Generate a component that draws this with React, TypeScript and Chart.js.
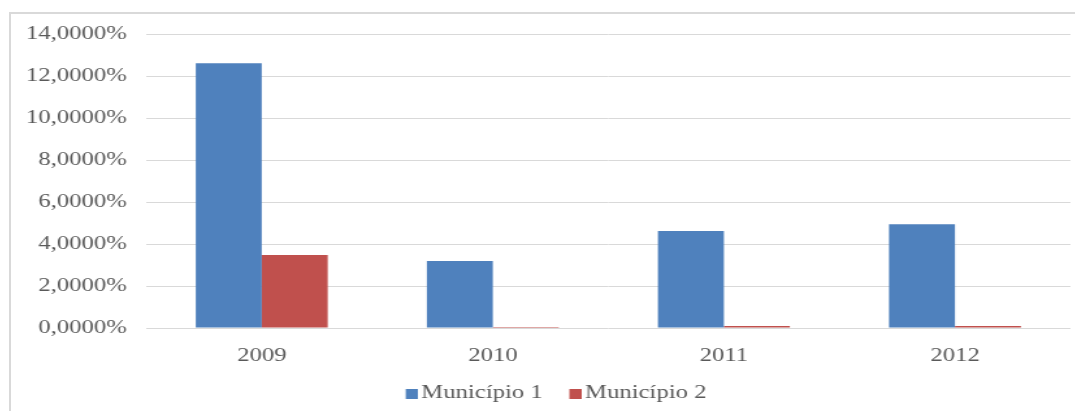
import React, { useEffect, useRef } from "react";
import { Chart, registerables } from "chart.js";

Chart.register(...registerables);

const categories = ["2009", "2010", "2011", "2012"];
const municipio1 = [12.62, 3.19, 4.62, 4.95];
const municipio2 = [3.48, 0.05, 0.1, 0.1];
const seriesNames = ["Município 1", "Município 2"];
const seriesColors = ["#4f81bd", "#c0504d"];

const STRETCH = 1.3;
const CW = 840;
const CH = 405;

function makeLegendBox(color: string) {
  const c = document.createElement("canvas");
  c.width = 14;
  c.height = 10;
  const ctx = c.getContext("2d");
  if (ctx) {
    ctx.fillStyle = color;
    ctx.fillRect(5, 0, 9, 10);
  }
  return c;
}

export default function App() {
  const ref = useRef<HTMLCanvasElement | null>(null);
  useEffect(() => {
    if (!ref.current) return;
    const font = { family: "'Liberation Serif', 'Times New Roman', serif", size: 19 };
    const boxes = seriesColors.map(makeLegendBox);
    const chart = new Chart(ref.current, {
      type: "bar",
      data: {
        labels: categories,
        datasets: [
          { label: seriesNames[0], data: municipio1, backgroundColor: seriesColors[0], borderWidth: 0 },
          { label: seriesNames[1], data: municipio2, backgroundColor: seriesColors[1], borderWidth: 0 },
        ],
      },
      options: {
        animation: false,
        responsive: false,
        maintainAspectRatio: false,
        layout: { padding: { top: 2, right: 10, left: 10, bottom: 0 } },
        datasets: { bar: { barPercentage: 1, categoryPercentage: 0.571 } },
        plugins: {
          tooltip: { enabled: false },
          legend: {
            position: "bottom",
            labels: {
              font,
              color: "#595959",
              usePointStyle: true,
              pointStyleWidth: 1,
              boxHeight: 10,
              padding: 22,
              generateLabels: (c: any) =>
                (Chart.defaults.plugins.legend.labels.generateLabels as any)(c).map((l: any, i: number) => ({
                  ...l,
                  pointStyle: boxes[i],
                })),
            },
          },
        },
        scales: {
          x: {
            grid: { display: false },
            border: { display: false },
            ticks: { font, color: "#595959", padding: 9 },
            afterFit: (s: any) => {
              s.height = 34;
            },
          },
          y: {
            min: 0,
            max: 14,
            grid: { color: "#d9d9d9", lineWidth: 1, drawTicks: false },
            border: { display: false },
            afterFit: (s: any) => {
              s.width = 94;
            },
            ticks: {
              stepSize: 2,
              font,
              color: "#595959",
              padding: 15,
              callback: (v: any) => Number(v).toFixed(4).replace(".", ",") + "%",
            },
          },
          rightSpace: {
            type: "linear",
            position: "right",
            grid: { display: false, drawTicks: false },
            border: { display: false },
            ticks: { display: false },
            afterFit: (s: any) => {
              s.width = 15;
            },
          },
        },
      },
    });
    return () => chart.destroy();
  }, []);
  return (
    <div
      style={{
        marginTop: 4,
        marginLeft: 1,
        borderTop: "2px solid #d9d9d9",
        borderLeft: "2px solid #d9d9d9",
        width: 1074,
        height: 409,
        background: "#fff",
        overflow: "hidden",
      }}
    >
      <div
        style={{
          width: CW,
          height: CH,
          marginTop: -6,
          transform: `scaleX(${STRETCH})`,
          transformOrigin: "0 0",
        }}
      >
        <canvas ref={ref} width={CW} height={CH} style={{ display: "block" }} />
      </div>
    </div>
  );
}
